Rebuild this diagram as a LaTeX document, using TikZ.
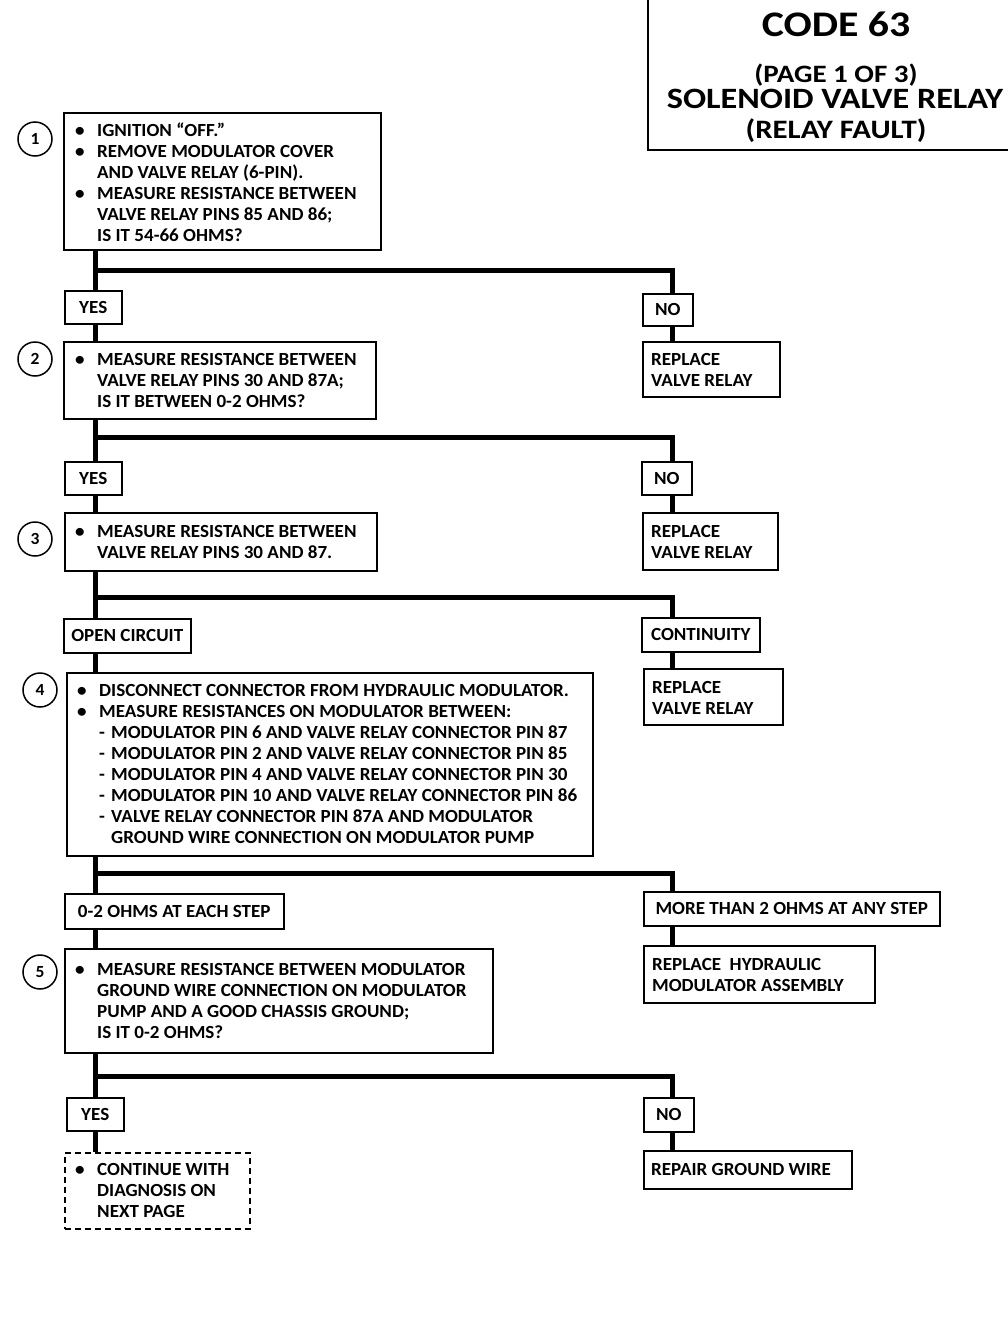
\documentclass[tikz,border=0pt]{standalone}
\usepackage{fontspec}
\setmainfont{Carlito}
\newfontfamily\bodyf{Carlito}[FakeStretch=1.03]
\newfontfamily\titlef{Carlito}[FakeStretch=1.16]
\newcommand{\bul}[1]{\makebox[22pt][l]{\textbullet}#1}
\newcommand{\cnt}[1]{\hspace*{22pt}#1}
\newcommand{\dsh}[1]{\hspace*{22pt}\makebox[12pt][l]{-}#1}
\newcommand{\dcnt}[1]{\hspace*{34pt}#1}
\begin{document}
\begin{tikzpicture}[x=1pt,y=-1pt,
  box/.style={draw, line width=1.5pt, anchor=north west, inner sep=0pt},
  lbl/.style={box, font=\bodyf\bfseries\fontsize{18.5}{21}\selectfont},
  txt/.style={anchor=west, inner sep=0pt, align=left, font=\bodyf\bfseries\fontsize{18.5}{21}\selectfont},
  conn/.style={line width=5pt, line cap=butt, line join=miter},
  circ/.style={draw, circle, line width=1.5pt, minimum size=34pt, inner sep=0pt, font=\bodyf\bfseries\fontsize{17}{20}\selectfont},
  ttl/.style={anchor=base, inner sep=0pt}
]
\useasboundingbox (0,0) rectangle (1008,1328);
\fill[white] (0,0) rectangle (1008,1328);

% title
\draw[line width=1.5pt] (648,0) -- (648,150) -- (1008,150);
\node[ttl, font=\titlef\bfseries\fontsize{36}{40}\selectfont] (t1) at (836,36) {CODE 63};
\node[ttl, font=\titlef\bfseries\fontsize{25}{29}\selectfont] (t2) at (836,82) {(PAGE 1 OF 3)};
\node[ttl, font=\titlef\bfseries\fontsize{29.5}{33}\selectfont] (t3) at (835,108) {SOLENOID VALVE RELAY};
\node[ttl, font=\titlef\bfseries\fontsize{26.6}{30}\selectfont] (t4) at (836,138) {(RELAY FAULT)};

\coordinate (sp) at (95,0);
\coordinate (rp) at (672,0);

% step 1
\node[circ] (c1) at (35,139) {1};
\node[box, minimum width=317pt, minimum height=137pt] (b1) at (63,112) {};
\node[txt] (b1t) at ([xshift=12pt,yshift=-1pt]b1.west) {\bul{IGNITION “OFF.”}\\\bul{REMOVE MODULATOR COVER}\\\cnt{AND VALVE RELAY (6-PIN).}\\\bul{MEASURE RESISTANCE BETWEEN}\\\cnt{VALVE RELAY PINS 85 AND 86;}\\\cnt{IS IT 54-66 OHMS?}};
\node[lbl, minimum width=57pt, minimum height=33pt] (y1) at (64,290) {YES};
\node[lbl, minimum width=50pt, minimum height=32pt] (n1) at (642,293) {NO};
\node[box, minimum width=137pt, minimum height=55pt] (r1) at (642,341) {};
\node[txt] (r1t) at ([xshift=9pt,yshift=-1pt]r1.west) {REPLACE\\VALVE RELAY};
\coordinate (h1) at (95,270);
\draw[conn] (b1.south -| sp) -- (y1.north -| sp);
\draw[conn] (h1) -| (n1.north -| rp);
\draw[conn] (n1.south -| rp) -- (r1.north -| rp);

% step 2
\node[circ] (c2) at (35,359) {2};
\node[box, minimum width=312pt, minimum height=77pt] (b2) at (63,341) {};
\node[txt] (b2t) at ([xshift=12pt]b2.west) {\bul{MEASURE RESISTANCE BETWEEN}\\\cnt{VALVE RELAY PINS 30 AND 87A;}\\\cnt{IS IT BETWEEN 0-2 OHMS?}};
\draw[conn] (y1.south -| sp) -- (b2.north -| sp);
\node[lbl, minimum width=57pt, minimum height=33pt] (y2) at (64,461) {YES};
\node[lbl, minimum width=50pt, minimum height=33pt] (n2) at (641,461) {NO};
\node[box, minimum width=135pt, minimum height=57pt] (r2) at (642,512) {};
\node[txt] (r2t) at ([xshift=9pt,yshift=-1pt]r2.west) {REPLACE\\VALVE RELAY};
\coordinate (h2) at (95,437);
\draw[conn] (b2.south -| sp) -- (y2.north -| sp);
\draw[conn] (h2) -| (n2.north -| rp);
\draw[conn] (n2.south -| rp) -- (r2.north -| rp);

% step 3
\node[circ] (c3) at (35,539) {3};
\node[box, minimum width=312pt, minimum height=58pt] (b3) at (64,512) {};
\node[txt] (b3t) at ([xshift=11pt]b3.west) {\bul{MEASURE RESISTANCE BETWEEN}\\\cnt{VALVE RELAY PINS 30 AND 87.}};
\draw[conn] (y2.south -| sp) -- (b3.north -| sp);
\node[lbl, minimum width=127pt, minimum height=34pt] (oc) at (63,618) {OPEN CIRCUIT};
\node[lbl, minimum width=118pt, minimum height=34pt] (co) at (641,617) {CONTINUITY};
\node[box, minimum width=139pt, minimum height=56pt] (r3) at (643,668) {};
\node[txt] (r3t) at ([xshift=9pt,yshift=-1pt]r3.west) {REPLACE\\VALVE RELAY};
\coordinate (h3) at (95,597);
\draw[conn] (b3.south -| sp) -- (oc.north -| sp);
\draw[conn] (h3) -| (co.north -| rp);
\draw[conn] (co.south -| rp) -- (r3.north -| rp);

% step 4
\node[circ] (c4) at (40,690) {4};
\node[box, minimum width=526pt, minimum height=183pt] (b4) at (66,672) {};
\node[txt] (b4t) at ([xshift=11pt]b4.west) {\bul{DISCONNECT CONNECTOR FROM HYDRAULIC MODULATOR.}\\\bul{MEASURE RESISTANCES ON MODULATOR BETWEEN:}\\\dsh{MODULATOR PIN 6 AND VALVE RELAY CONNECTOR PIN 87}\\\dsh{MODULATOR PIN 2 AND VALVE RELAY CONNECTOR PIN 85}\\\dsh{MODULATOR PIN 4 AND VALVE RELAY CONNECTOR PIN 30}\\\dsh{MODULATOR PIN 10 AND VALVE RELAY CONNECTOR PIN 86}\\\dsh{VALVE RELAY CONNECTOR PIN 87A AND MODULATOR}\\\dcnt{GROUND WIRE CONNECTION ON MODULATOR PUMP}};
\draw[conn] (oc.south -| sp) -- (b4.north -| sp);
\node[lbl, minimum width=219pt, minimum height=35pt] (ok) at (64,893) {0-2 OHMS AT EACH STEP};
\node[lbl, minimum width=296pt, minimum height=34pt] (mt) at (643,891) {MORE THAN 2 OHMS AT ANY STEP};
\node[box, minimum width=231pt, minimum height=57pt] (rh) at (643,945) {};
\node[txt] (rht) at ([xshift=9pt,yshift=-1pt]rh.west) {REPLACE\ \ HYDRAULIC\\MODULATOR ASSEMBLY};
\coordinate (h4) at (95,873);
\draw[conn] (b4.south -| sp) -- (ok.north -| sp);
\draw[conn] (h4) -| (mt.north -| rp);
\draw[conn] (mt.south -| rp) -- (rh.north -| rp);

% step 5
\node[circ] (c5) at (40,972) {5};
\node[box, minimum width=428pt, minimum height=104pt] (b5) at (64,948) {};
\node[txt] (b5t) at ([xshift=11pt]b5.west) {\bul{MEASURE RESISTANCE BETWEEN MODULATOR}\\\cnt{GROUND WIRE CONNECTION ON MODULATOR}\\\cnt{PUMP AND A GOOD CHASSIS GROUND;}\\\cnt{IS IT 0-2 OHMS?}};
\draw[conn] (ok.south -| sp) -- (b5.north -| sp);
\node[lbl, minimum width=57pt, minimum height=33pt] (y3) at (66,1097) {YES};
\node[lbl, minimum width=50pt, minimum height=34pt] (n3) at (643,1097) {NO};
\node[box, dashed, dash pattern=on 6pt off 4pt, minimum width=185pt, minimum height=76pt] (dn) at (64,1152) {};
\node[txt] (dnt) at ([xshift=11pt]dn.west) {\bul{CONTINUE WITH}\\\cnt{DIAGNOSIS ON}\\\cnt{NEXT PAGE}};
\node[box, minimum width=208pt, minimum height=38pt] (rg) at (643,1150) {};
\node[txt] (rgt) at ([xshift=8pt]rg.west) {REPAIR GROUND WIRE};
\coordinate (h5) at (95,1076);
\draw[conn] (b5.south -| sp) -- (y3.north -| sp);
\draw[conn] (h5) -| (n3.north -| rp);
\draw[conn] (y3.south -| sp) -- (dn.north -| sp);
\draw[conn] (n3.south -| rp) -- (rg.north -| rp);
\end{tikzpicture}
\end{document}
